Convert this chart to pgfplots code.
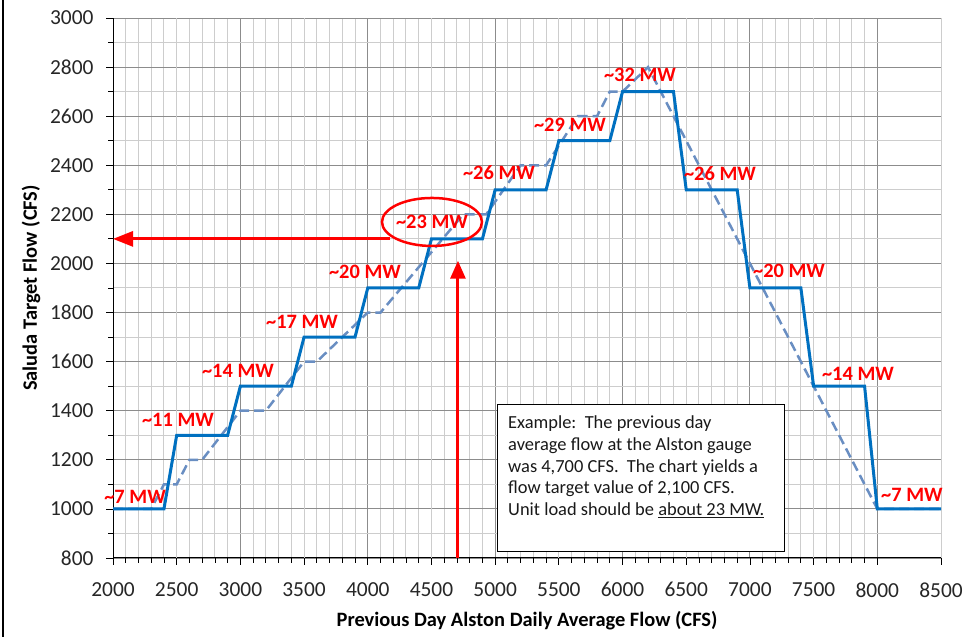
\documentclass[border=0pt]{standalone}
\usepackage{fontspec}
\setmainfont{Carlito}
\usepackage{pgfplots}
\pgfplotsset{compat=1.18}
\usetikzlibrary{arrows.meta}
\definecolor{solidblue}{RGB}{0,112,192}
\definecolor{dashblue}{RGB}{105,142,194}
\definecolor{gridlight}{RGB}{205,205,205}
\definecolor{griddark}{RGB}{140,140,140}
\begin{document}
\begin{tikzpicture}[x=1bp,y=1bp]
\useasboundingbox (0,0) rectangle (964,637);
\draw[black, line width=2.5bp] (3,0) -- (3,637);
\begin{axis}[
  at={(113bp,79bp)}, anchor=south west,
  scale only axis, width=828bp, height=540bp,
  xmin=2000, xmax=8500, ymin=800, ymax=3000,
  xtick={2000,3000,...,8000},
  extra x ticks={2500,3500,...,8500},
  extra x tick style={major grid style={gridlight, line width=1bp}},
  ytick={800,1000,...,3000},
  minor x tick num=9, minor y tick num=1,
  xmajorgrids, xminorgrids, ymajorgrids, yminorgrids,
  major grid style={griddark, line width=0.9bp},
  minor grid style={gridlight, line width=1bp},
  axis x line*=bottom, axis y line*=left,
  axis line style={black, line width=1bp},
  tick align=outside,
  major tick length=7bp, minor tick length=5bp,
  every tick/.style={black, line width=0.8bp},
  /pgf/number format/assume math mode=true,
  /pgf/number format/1000 sep={},
  tick label style={font=\fontsize{21.5}{25}\selectfont, color=black!85},
  yticklabel style={xshift=-9bp},
  xticklabel style={yshift=-14bp},
  xlabel={Previous Day Alston Daily Average Flow (CFS)},
  ylabel={Saluda Target Flow (CFS)},
  label style={font=\bfseries\fontsize{20.5}{24}\selectfont},
  x label style={at={(axis description cs:0.5,-0.1167)}, anchor=center},
  y label style={at={(axis description cs:-0.099,0.5)}, anchor=center},
  clip=false,
]
\addplot[dashblue, line width=2.5bp, dash pattern=on 10bp off 5bp] coordinates {
(2000,1000) (2300,1000) (2400,1100) (2500,1100) (2600,1200) (2700,1200)
(3000,1400) (3200,1400) (3500,1600) (3600,1600) (4000,1800) (4100,1800)
(4750,2200) (4930,2200) (5200,2400) (5400,2400) (5650,2600) (5800,2600)
(5900,2700) (6000,2700) (6200,2800) (8000,1000) (8500,1000)
};
\addplot[solidblue, line width=3bp] coordinates {
(2000,1000) (2400,1000) (2500,1300) (2900,1300) (3000,1500) (3400,1500)
(3500,1700) (3900,1700) (4000,1900) (4400,1900) (4500,2100) (4900,2100)
(5000,2300) (5400,2300) (5500,2500) (5900,2500) (6000,2700) (6400,2700)
(6500,2300) (6900,2300) (7000,1900) (7400,1900) (7500,1500) (7900,1500)
(8000,1000) (8500,1000)
};
\tikzset{mw/.style={red, font=\bfseries\fontsize{20.5}{24}\selectfont, inner sep=0pt}}
\node[mw] at (axis cs:2173,1049) {\textasciitilde 7 MW};
\node[mw] at (axis cs:2510,1362) {\textasciitilde 11 MW};
\node[mw] at (axis cs:2981,1562) {\textasciitilde 14 MW};
\node[mw] at (axis cs:3484,1762) {\textasciitilde 17 MW};
\node[mw] at (axis cs:3978,1965) {\textasciitilde 20 MW};
\node[mw] at (axis cs:4504,2169) {\textasciitilde 23 MW};
\node[mw] at (axis cs:5030,2369) {\textasciitilde 26 MW};
\node[mw] at (axis cs:5587,2564) {\textasciitilde 29 MW};
\node[mw] at (axis cs:6137,2768) {\textasciitilde 32 MW};
\node[mw] at (axis cs:6765,2364) {\textasciitilde 26 MW};
\node[mw] at (axis cs:7307,1969) {\textasciitilde 20 MW};
\node[mw] at (axis cs:7848,1550) {\textasciitilde 14 MW};
\node[mw] at (axis cs:8272,1057) {\textasciitilde 7 MW};
\draw[red, line width=2.5bp] (axis cs:4504,2169) ellipse [x radius=50bp, y radius=24bp];
\draw[red, line width=3bp, -{Triangle[width=15bp,length=20bp]}] (axis cs:4175,2100) -- (axis cs:2000,2100);
\draw[red, line width=3bp, -{Triangle[width=15bp,length=18bp]}] (axis cs:4708,800) -- (axis cs:4708,2011);
\draw[black, line width=1bp, fill=white] (axis cs:5015,828) rectangle (axis cs:7268,1427);
\node[anchor=north west, inner sep=0pt, align=left, font=\fontsize{18.5}{21.7}\selectfont, color=black!90]
  at (axis cs:5101,1379) {Example:\ \ The previous day\\ average flow at the Alston gauge\\ was 4,700 CFS.\ \ The chart yields a\\ flow target value of 2,100 CFS.\\ Unit load should be \underline{about 23 MW.}};
\end{axis}
\end{tikzpicture}
\end{document}
